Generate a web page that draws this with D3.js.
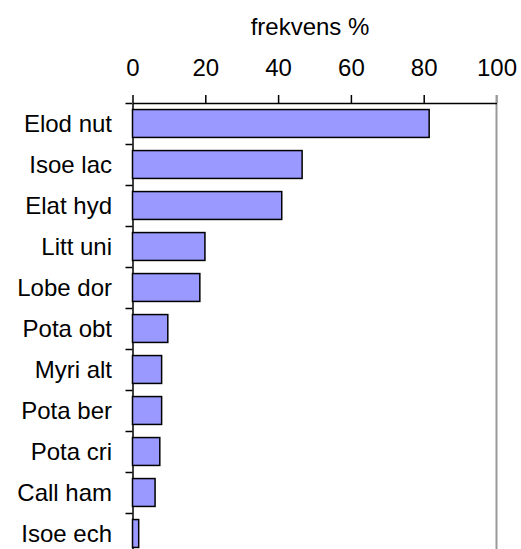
<!DOCTYPE html>
<html>
<head>
<meta charset="utf-8">
<script src="https://cdn.jsdelivr.net/npm/d3@7"></script>
<style>
  body { margin: 0; background: #fff; }
  svg text { font-family: "Liberation Sans", Arial, sans-serif; font-size: 24px; fill: #000; }
</style>
</head>
<body>
<svg class="chart"></svg>
<script>
// data
var species = ["Elod nut", "Isoe lac", "Elat hyd", "Litt uni", "Lobe dor", "Pota obt",
               "Myri alt", "Pota ber", "Pota cri", "Call ham", "Isoe ech"];
var freq = [81.5, 46.6, 41.0, 19.9, 18.5, 9.7, 8.0, 8.0, 7.5, 6.2, 1.7];
var xTicks = [0, 20, 40, 60, 80, 100];

var width = 521, height = 549;
// plot area edges (window.top is reserved, so other names)
var plotLeft = 132.5, plotRight = 496.5, plotTop = 103, plotBottom = 554;

var svg = d3.select(".chart").attr("width", width).attr("height", height);

var x = d3.scaleLinear().domain([0, 100]).range([plotLeft, plotRight]);
var y = d3.scaleBand().domain(species).range([plotTop, plotBottom])
          .paddingInner(0.32).paddingOuter(0.16);
// category boundaries for the left ticks
var yIdx = d3.scaleLinear().domain([0, species.length]).range([plotTop, plotBottom]);

// right frame line (grey)
svg.append("line")
   .attr("x1", x(100)).attr("x2", x(100))
   .attr("y1", plotTop - 8).attr("y2", plotBottom)
   .attr("stroke", "#999").attr("stroke-width", 2);

// top axis
var xAxis = svg.append("g")
   .attr("transform", "translate(0," + plotTop + ")")
   .call(d3.axisTop(x).tickValues(xTicks).tickSize(8).tickSizeOuter(0).tickPadding(19));
xAxis.attr("font-size", null).attr("font-family", null);
xAxis.select(".domain").attr("stroke", "#000").attr("stroke-width", 1.5);
xAxis.selectAll(".tick line").attr("stroke-width", 1.5)
     .attr("stroke", function(d) { return d === 100 ? "#999" : "#000"; });

// left axis with ticks between categories
var yAxis = svg.append("g")
   .attr("transform", "translate(" + plotLeft + ",0)")
   .call(d3.axisLeft(yIdx).tickValues(d3.range(species.length + 1)).tickSize(7)
           .tickSizeOuter(0).tickFormat(""));
yAxis.select(".domain").attr("stroke", "#000").attr("stroke-width", 1.5);
yAxis.selectAll(".tick line").attr("stroke", "#000").attr("stroke-width", 1.5);

// bars
svg.selectAll("rect.bar").data(species).enter().append("rect")
   .attr("class", "bar")
   .attr("x", x(0))
   .attr("y", function(d) { return y(d); })
   .attr("width", function(d, i) { return x(freq[i]) - x(0); })
   .attr("height", y.bandwidth())
   .attr("fill", "#9999FF")
   .attr("stroke", "#000")
   .attr("stroke-width", 1.5);

// category labels
svg.selectAll("text.cat").data(species).enter().append("text")
   .attr("class", "cat")
   .attr("x", 112)
   .attr("y", function(d) { return y(d) + y.bandwidth() / 2; })
   .attr("dy", "0.35em")
   .attr("text-anchor", "end")
   .text(function(d) { return d; });

// axis title
svg.append("text")
   .attr("x", 310).attr("y", 35)
   .attr("text-anchor", "middle")
   .text("frekvens %");
</script>
</body>
</html>
